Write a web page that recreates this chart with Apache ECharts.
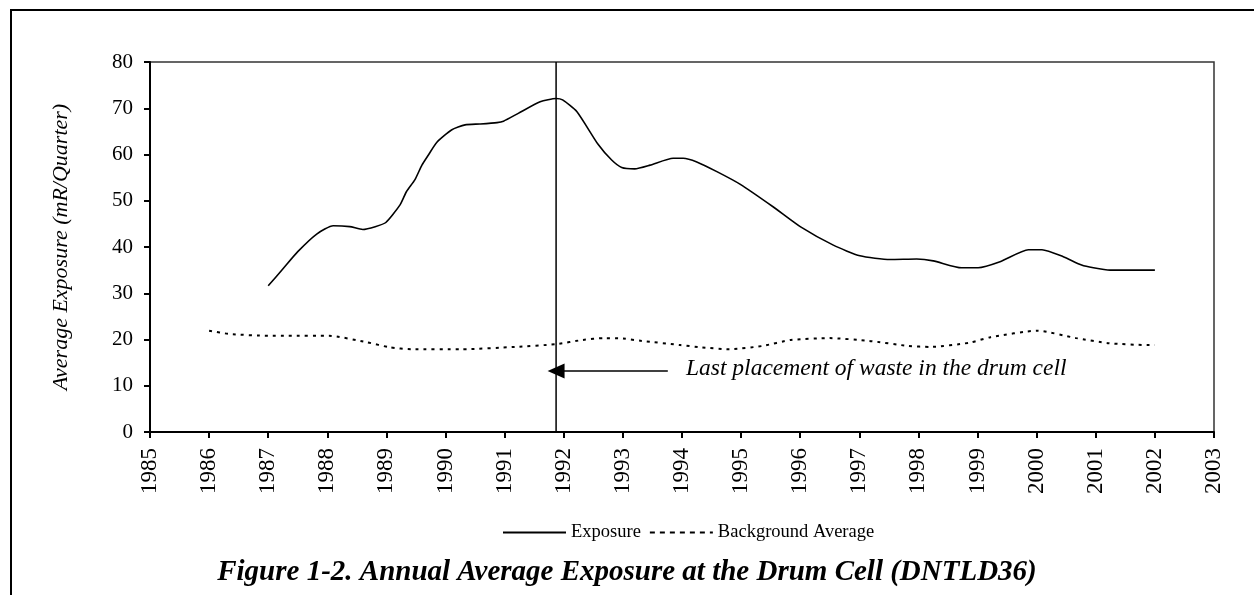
<!DOCTYPE html>
<html>
<head>
<meta charset="utf-8">
<script src="https://cdn.jsdelivr.net/npm/echarts@6/dist/echarts.min.js"></script>
<style>html,body{margin:0;padding:0;background:#fff}#c{width:1254px;height:595px}</style>
</head>
<body>
<div id="c"></div>
<script>
// ---- data ----
const exposureYears = [1987.00,1987.25,1987.50,1987.82,1988.10,1988.38,1988.60,1988.81,1988.99,1989.23,1989.34,1989.48,1989.60,1989.71,1989.85,1990.10,1990.33,1990.58,1990.87,1990.98,1991.23,1991.60,1991.87,1991.98,1992.22,1992.58,1992.81,1992.98,1993.20,1993.46,1993.85,1994.02,1994.25,1994.59,1994.98,1995.54,1996.00,1996.56,1997.01,1997.52,1997.97,1998.25,1998.73,1999.01,1999.38,1999.86,2000.09,2000.45,2000.76,2000.96,2001.24,2002.00];
const exposureValues = [31.6,35.3,39.0,42.8,44.6,44.4,43.8,44.4,45.3,49.1,52.0,54.5,57.7,59.9,62.6,65.3,66.4,66.6,66.9,67.2,68.9,71.4,72.1,71.8,69.3,62.2,58.8,57.2,56.9,57.7,59.2,59.2,58.4,56.3,53.6,48.7,44.4,40.4,38.1,37.3,37.4,37.0,35.5,35.5,36.8,39.4,39.4,37.9,36.1,35.5,35.0,35.0];
const backgroundYears = [1986.00,1986.34,1987.00,1987.34,1988.03,1988.67,1989.06,1989.42,1990.27,1991.18,1991.87,1992.32,1992.68,1993.00,1993.32,1993.97,1994.33,1994.80,1995.36,1995.84,1996.50,1997.17,1997.83,1998.20,1998.86,1999.22,2000.01,2000.67,2001.22,2001.88,2002.00];
const backgroundValues = [21.9,21.2,20.8,20.8,20.8,19.4,18.3,17.9,17.9,18.4,19.0,19.9,20.3,20.2,19.7,18.8,18.3,17.9,18.6,19.9,20.3,19.7,18.6,18.4,19.3,20.5,21.9,20.3,19.2,18.8,18.8];
const placementYear = 1991.87;
const arrowStartYear = 1993.76;
const arrowLevel = 13.2;
const yTicks = [0,10,20,30,40,50,60,70,80];
const xTicks = [1985,1986,1987,1988,1989,1990,1991,1992,1993,1994,1995,1996,1997,1998,1999,2000,2001,2002,2003];
const seriesNames = ['Exposure', 'Background Average'];
const titleText = 'Figure 1-2. Annual Average Exposure at the Drum Cell (DNTLD36)';
const annotationText = 'Last placement of waste in the drum cell';
const yAxisTitle = 'Average Exposure (mR/Quarter)';

const pair = (xs, ys) => xs.map((x, i) => [x, ys[i]]);
const serif = '"Liberation Serif", "DejaVu Serif", serif';

const chart = echarts.init(document.getElementById('c'), null, {renderer: 'canvas'});
chart.setOption({
  animation: false,
  backgroundColor: '#fff',
  title: {
    text: titleText,
    left: 'center', top: 553,
    textStyle: {fontFamily: serif, fontSize: 29, fontWeight: 'bold', fontStyle: 'italic', color: '#000'}
  },
  legend: {
    data: [
      {name: seriesNames[0]},
      {name: seriesNames[1], lineStyle: {type: [5, 5], width: 2}}
    ],
    left: 497, top: 518,
    itemWidth: 63, itemHeight: 14, itemGap: 8,
    itemStyle: {opacity: 0},
    textStyle: {fontFamily: serif, fontSize: 18.5, color: '#000'}
  },
  grid: {left: 150, right: 40, top: 62, bottom: 163, show: true, borderColor: '#333', borderWidth: 1.5, containLabel: false},
  xAxis: {
    type: 'value', min: xTicks[0], max: xTicks[xTicks.length-1], interval: 1,
    axisLine: {lineStyle: {color: '#000', width: 2}},
    axisTick: {show: true, length: 6, lineStyle: {color: '#000', width: 2}},
    splitLine: {show: false},
    axisLabel: {rotate: 90, margin: 16, fontFamily: serif, fontSize: 23, color: '#000', formatter: v => String(v)}
  },
  yAxis: {
    type: 'value', min: yTicks[0], max: yTicks[yTicks.length-1], interval: 10,
    name: yAxisTitle, nameLocation: 'middle', nameGap: 78, nameRotate: 90,
    nameTextStyle: {fontFamily: serif, fontSize: 22, fontStyle: 'italic', color: '#000'},
    axisLine: {show: true, lineStyle: {color: '#000', width: 2}},
    axisTick: {show: true, length: 6, lineStyle: {color: '#000', width: 2}},
    splitLine: {show: false},
    axisLabel: {margin: 17, fontFamily: serif, fontSize: 21, color: '#000'}
  },
  series: [
    {
      name: seriesNames[0], type: 'line', data: pair(exposureYears, exposureValues),
      showSymbol: false, symbol: 'none', smooth: 0.2,
      lineStyle: {color: '#000', width: 1.6}, itemStyle: {color: '#000'}
    },
    {
      name: seriesNames[1], type: 'line', data: pair(backgroundYears, backgroundValues),
      showSymbol: false, symbol: 'none', smooth: 0.2,
      lineStyle: {color: '#000', width: 2, type: [3, 5]}, itemStyle: {color: '#000'}
    },
    {
      name: 'placement', type: 'line', data: [[placementYear, yTicks[0]], [placementYear, yTicks[yTicks.length-1]]],
      showSymbol: false, symbol: 'none', lineStyle: {color: '#000', width: 1.5},
      markLine: {
        silent: true, animation: false,
        lineStyle: {color: '#000', width: 1.5, type: 'solid'},
        label: {show: false},
        data: [[
          {coord: [arrowStartYear, arrowLevel], symbol: 'none'},
          {coord: [placementYear, arrowLevel], symbol: 'triangle', symbolSize: [15, 17]}
        ]]
      }
    }
  ],
  graphic: [
    {type: 'rect', shape: {x: 11, y: 10, width: 1300, height: 700}, style: {fill: 'none', stroke: '#000', lineWidth: 2}, silent: true},
    {type: 'text', left: 686, top: 357, style: {text: annotationText, font: 'italic 23.5px ' + serif, fill: '#000'}}
  ]
});
</script>
</body>
</html>
